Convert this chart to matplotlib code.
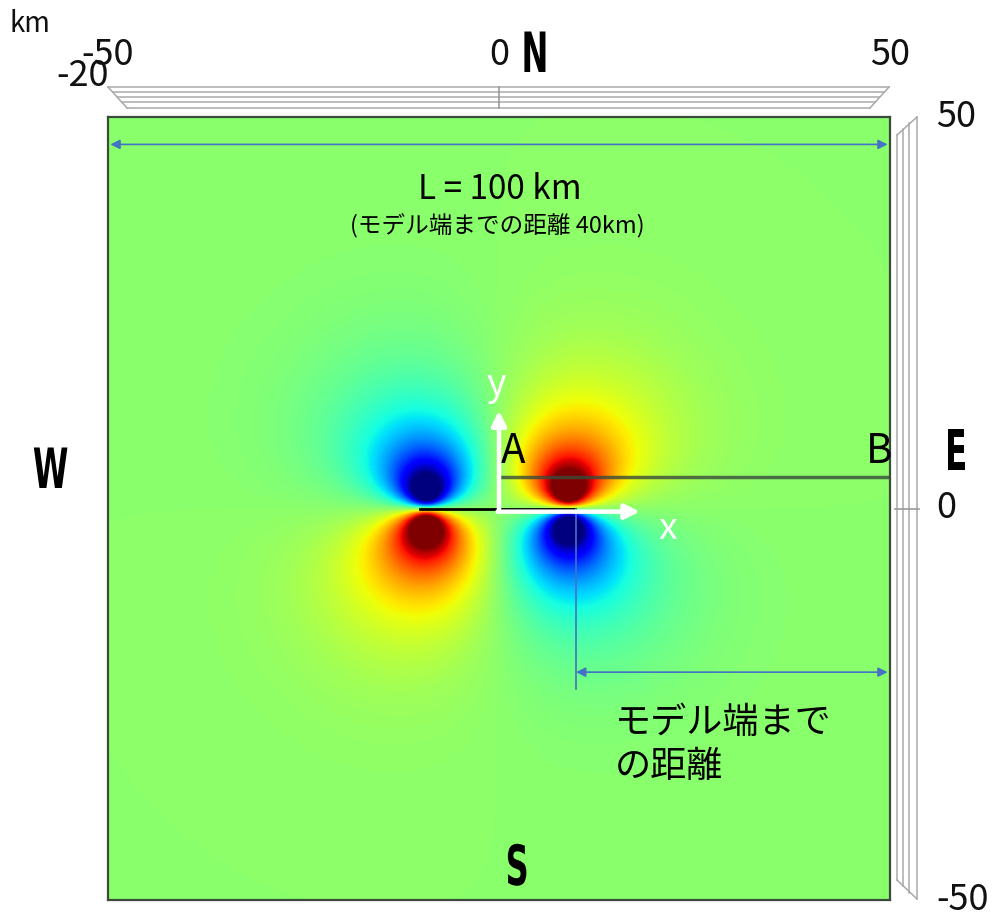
import numpy as np
import matplotlib
matplotlib.use("Agg")
import matplotlib.pyplot as plt
import matplotlib.transforms as mtransforms
from matplotlib import patheffects

plt.rcParams['font.family'] = ['Noto Sans CJK JP', 'DejaVu Sans']

# ---------------- data ----------------
map_extent_km = [-50.0, 50.0, -50.0, 50.0]
tick_values = [-50, 0, 50]
tick_labels = ["-50", "0", "50"]
fault_trace_x_km = [-10.1, 9.7]      # fault trace (y = 0)
lobe_tip_x_km = [-9.3, 8.9]          # tip positions of the uplift/subsidence lobes
lobe_tip_amp = [-1.0, 1.0]           # sign / strength of each tip (north side)
lobe_core_km = 2.3
lobe_decay_km = 14.0
color_range = [-0.160, 0.148]
profile_AB_y_km = 4.0
profile_AB_x_km = [0.0, 50.0]
edge_dim_y_km = -20.9
edge_dim_x_km = [9.85, 49.7]
edge_dim_tick_y_km = [0.0, -23.1]
L_arrow_x_km = [-49.7, 49.7]
L_arrow_y_km = 46.5
title_text = "L = 100 km"
subtitle_text = "(モデル端までの距離 40km)"
edge_text = "モデル端まで\nの距離"
compass_labels = ["N", "S", "W", "E"]

# ---------------- field ----------------
gx = np.linspace(map_extent_km[0], map_extent_km[1], 900)
gy = np.linspace(map_extent_km[2], map_extent_km[3], 900)
GX, GY = np.meshgrid(gx, gy)
UZ = np.zeros_like(GX)
for xt, amp in zip(lobe_tip_x_km, lobe_tip_amp):
    d2 = (GX - xt) ** 2 + GY ** 2
    UZ += amp * GY / (d2 + lobe_core_km ** 2) * np.exp(-d2 / (2 * lobe_decay_km ** 2))


class XSqueeze(patheffects.AbstractPathEffect):
    """Draw text narrower (condensed) around its own centre."""

    def __init__(self, sx):
        super().__init__()
        self.sx = sx

    def draw_path(self, renderer, gc, tpath, affine, rgbFace=None):
        v = affine.transform(tpath.vertices)
        cx = 0.5 * (v[:, 0].min() + v[:, 0].max())
        aff = affine + mtransforms.Affine2D().translate(-cx, 0).scale(self.sx, 1).translate(cx, 0)
        renderer.draw_path(gc, tpath, aff, rgbFace)


# ---------------- figure ----------------
W_PX, H_PX = 998, 919
fig = plt.figure(figsize=(W_PX / 100, H_PX / 100), dpi=100)

ax = fig.add_axes([108 / W_PX, 1 - 900 / H_PX, 782 / W_PX, 783 / H_PX])
ax.imshow(UZ, extent=map_extent_km, origin='lower', cmap='jet',
          vmin=color_range[0], vmax=color_range[1], interpolation='bilinear',
          aspect='auto', zorder=0)
ax.set_xlim(map_extent_km[0], map_extent_km[1])
ax.set_ylim(map_extent_km[2], map_extent_km[3])
ax.set_xticks([])
ax.set_yticks([])
for s in ax.spines.values():
    s.set_color('#3c4a3c')
    s.set_linewidth(1.6)

ov = fig.add_axes([0, 0, 1, 1])
ov.set_zorder(10)
ov.set_xlim(0, W_PX)
ov.set_ylim(H_PX, 0)
ov.axis('off')
ov.patch.set_alpha(0)

blue = '#4472C4'
# L arrow
ax.annotate('', xy=(L_arrow_x_km[1], L_arrow_y_km), xytext=(L_arrow_x_km[0], L_arrow_y_km),
            arrowprops=dict(arrowstyle='<|-|>', color=blue, lw=1.2,
                            mutation_scale=14, shrinkA=0, shrinkB=0))
ax.text(0.1, 40.7, title_text, ha='center', va='center', fontsize=24, color='black')
ax.text(-0.2, 36.0, subtitle_text, ha='center', va='center', fontsize=17, color='black')

# fault trace
ax.plot(fault_trace_x_km, [0, 0], color='black', lw=2, zorder=3)
# profile A-B
ax.plot(profile_AB_x_km, [profile_AB_y_km] * 2, color='#3a4a3a', lw=2.5, alpha=0.8, zorder=3)
ax.text(1.8, 7.3, 'A', ha='center', va='center', fontsize=29, color='black')
ax.text(48.6, 7.3, 'B', ha='center', va='center', fontsize=29, color='black')

# coordinate arrows
ax.annotate('', xy=(0, 12.5), xytext=(0, -0.4),
            arrowprops=dict(arrowstyle='-|>', color='white', lw=3.2,
                            mutation_scale=22, shrinkA=0, shrinkB=0), zorder=4)
ax.annotate('', xy=(18.0, -0.4), xytext=(-0.2, -0.4),
            arrowprops=dict(arrowstyle='-|>', color='white', lw=3.2,
                            mutation_scale=22, shrinkA=0, shrinkB=0), zorder=4)
ax.text(-0.3, 15.8, 'y', ha='center', va='center', fontsize=27, color='white')
ax.text(21.6, -2.6, 'x', ha='center', va='center', fontsize=27, color='white')

# edge distance dimension
ax.plot([edge_dim_x_km[0]] * 2, edge_dim_tick_y_km, color=blue, lw=1.2, zorder=3)
ax.annotate('', xy=(edge_dim_x_km[1], edge_dim_y_km), xytext=(edge_dim_x_km[0], edge_dim_y_km),
            arrowprops=dict(arrowstyle='<|-|>', color=blue, lw=1.2,
                            mutation_scale=14, shrinkA=0, shrinkB=0))
ax.text(14.8, -30.2, edge_text, ha='left', va='center', fontsize=26,
        linespacing=1.3, color='black')

# ---------------- perspective frame (pixel overlay) ----------------
gray = '#a9a9a9'
top_ys = [87, 92, 97, 102, 108]
for i, yy in enumerate(top_ys):
    f = i / (len(top_ys) - 1)
    ov.plot([108 + 19 * f, 889 - 19 * f], [yy, yy], color=gray, lw=1.1)
ov.plot([108, 127], [87, 108], color=gray, lw=1.1)
ov.plot([889, 870], [87, 108], color=gray, lw=1.1)

right_xs = [897, 903, 909, 917]
for i, xx in enumerate(right_xs):
    f = i / (len(right_xs) - 1)
    ov.plot([xx, xx], [135 - 18 * f, 880 + 19 * f], color=gray, lw=1.1)
ov.plot([897, 917], [135, 117], color=gray, lw=1.1)
ov.plot([897, 917], [880, 899], color=gray, lw=1.1)

tr_top = mtransforms.blended_transform_factory(ax.transData, ov.transData)
tr_right = mtransforms.blended_transform_factory(ov.transData, ax.transData)
ov.plot([0, 0], [87, 108], color='#999999', lw=1.2, transform=tr_top)
ov.plot([895, 919], [0, 0], color='#999999', lw=1.2, transform=tr_right)

for v, lab in zip(tick_values, tick_labels):
    ov.text(v, 55, lab, ha='center', va='center', fontsize=26, transform=tr_top, color='#111111')
    ov.text(936, v, lab, ha='left', va='center', fontsize=26, transform=tr_right, color='#111111')

ov.text(10, 24, 'km', ha='left', va='center', fontsize=20, color='#111111')
ov.text(83, 76, '-20', ha='center', va='center', fontsize=26, color='#111111')

# compass letters (condensed look)
compass_pos = [(536, 57), (518, 870), (51, 473), (957, 455)]
for lab, (px, py) in zip(compass_labels, compass_pos):
    ov.text(px, py, lab, ha='center', va='center', fontsize=40, family='DejaVu Sans',
            weight='bold', color='black', zorder=5,
            path_effects=[XSqueeze(0.58)])

fig.savefig('out.png', dpi=100)
